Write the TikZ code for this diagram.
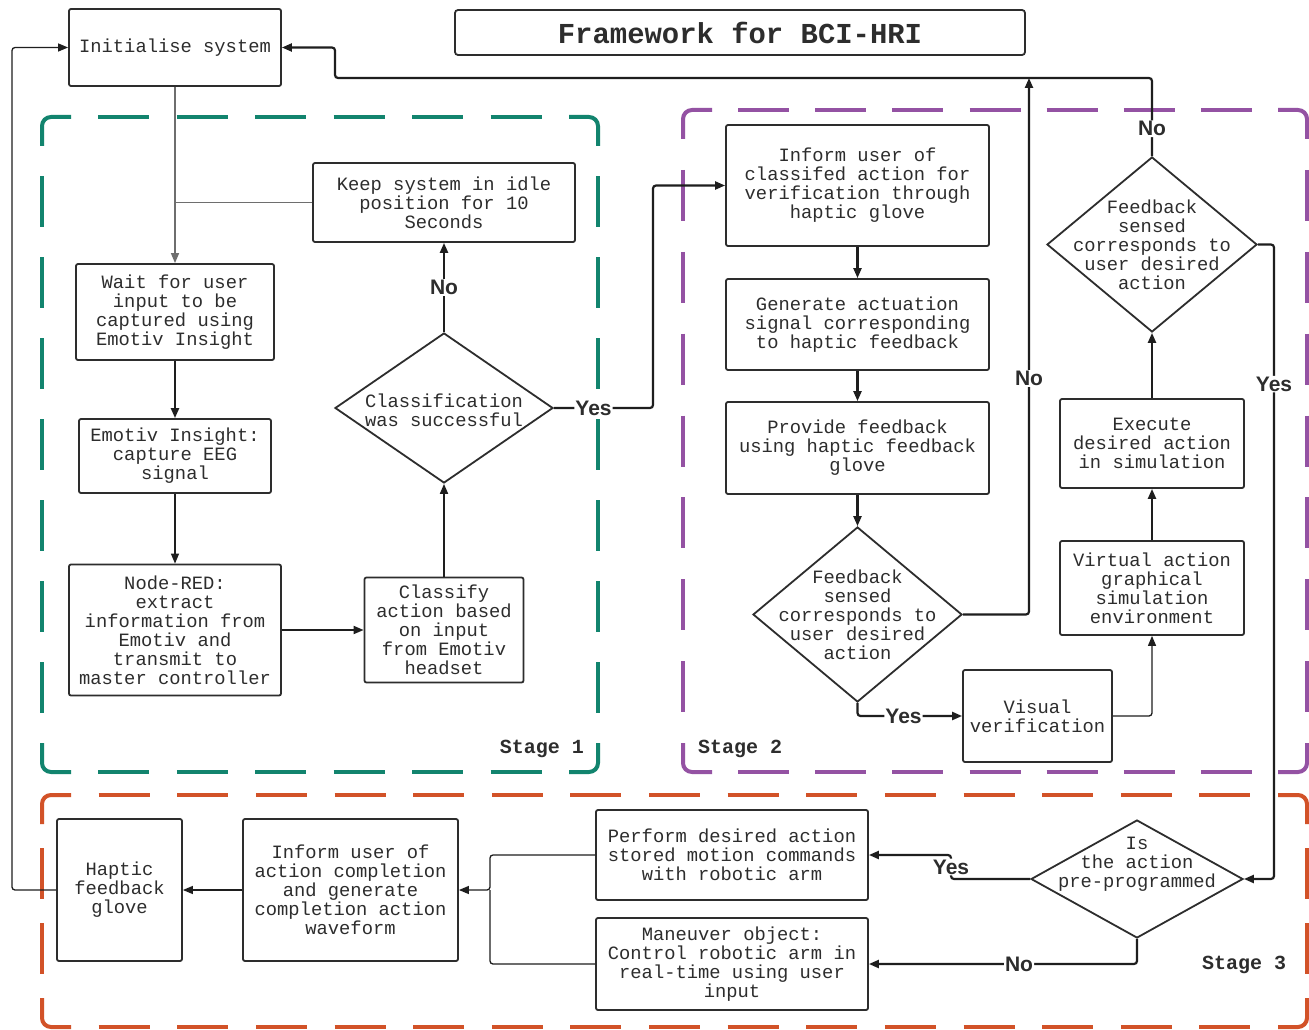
\documentclass[tikz,border=0pt]{standalone}
\usepackage{fontspec}
\usetikzlibrary{shapes.geometric,arrows.meta}
\newfontfamily\monof{Liberation Mono}
\newfontfamily\sansf{Liberation Sans}
\definecolor{txtc}{RGB}{45,45,45}
\definecolor{linec}{RGB}{30,30,30}
\definecolor{grayl}{RGB}{110,110,110}
\definecolor{stgreen}{RGB}{18,132,110}
\definecolor{stpurple}{RGB}{148,82,163}
\definecolor{storange}{RGB}{210,82,40}
\tikzset{
  box/.style={draw=txtc, line width=1.8pt, rounded corners=2pt, fill=white, align=center,
    text=txtc, inner sep=0pt, font={\monof\fontsize{18.8}{19}\selectfont}},
  dia/.style={draw=txtc, line width=1.8pt, diamond, fill=white, inner sep=0pt},
  dtxt/.style={align=center, text=txtc, inner sep=0pt, font={\monof\fontsize{18.8}{19}\selectfont}},
  lab/.style={fill=white, text=txtc, inner sep=1pt, font={\sansf\bfseries\fontsize{21}{21}\selectfont}},
  stagelab/.style={text=txtc, inner sep=0pt, font={\monof\bfseries\fontsize{20}{20}\selectfont}},
  arr/.style={-{Triangle[length=10pt,width=8pt]}},
  thk/.style={draw=linec, line width=2.2pt, rounded corners=3pt},
  med/.style={draw=linec, line width=1.8pt, rounded corners=3pt},
  thn/.style={draw=linec, line width=1.3pt, rounded corners=3pt},
  gl/.style={draw=grayl, line width=1.4pt, rounded corners=3pt},
}
% dashed stage frame: colour, x1, y1, x2, y2 (corner-centred dashes)
\newcommand\stageframe[5]{%
  \pgfmathsetmacro\sfLa{#4-#2-58}%
  \pgfmathsetmacro\sfNa{max(1,round((\sfLa-27)/78))}%
  \pgfmathsetmacro\sfGa{(\sfLa-\sfNa*51)/(\sfNa+1)}%
  \pgfmathsetmacro\sfLb{#5-#3-58}%
  \pgfmathsetmacro\sfNb{max(1,round((\sfLb-27)/78))}%
  \pgfmathsetmacro\sfGb{(\sfLb-\sfNb*51)/(\sfNb+1)}%
  \draw[#1, line width=4pt, rounded corners=9pt] (#2,#3+29) -- (#2,#3) -- (#2+29,#3);
  \draw[#1, line width=4pt, rounded corners=9pt] (#4-29,#3) -- (#4,#3) -- (#4,#3+29);
  \draw[#1, line width=4pt, rounded corners=9pt] (#4,#5-29) -- (#4,#5) -- (#4-29,#5);
  \draw[#1, line width=4pt, rounded corners=9pt] (#2+29,#5) -- (#2,#5) -- (#2,#5-29);
  \draw[#1, line width=4pt, dash pattern=on 51pt off \sfGa pt, dash phase=51pt] (#2+29,#3) -- (#4-29,#3);
  \draw[#1, line width=4pt, dash pattern=on 51pt off \sfGa pt, dash phase=51pt] (#2+29,#5) -- (#4-29,#5);
  \draw[#1, line width=4pt, dash pattern=on 51pt off \sfGb pt, dash phase=51pt] (#2,#3+29) -- (#2,#5-29);
  \draw[#1, line width=4pt, dash pattern=on 51pt off \sfGb pt, dash phase=51pt] (#4,#3+29) -- (#4,#5-29);
}
\begin{document}
\begin{tikzpicture}[x=1pt,y=-1pt]
\useasboundingbox[fill=white] (0,0) rectangle (1309,1030);

% stage frames
\stageframe{stgreen}{42}{117}{598}{772}
\stageframe{stpurple}{683}{110}{1307}{772}
\stageframe{storange}{42}{795}{1307}{1027}

\node[stagelab] (s1) at (542,749) {Stage 1};
\node[stagelab] (s2) at (740,749) {Stage 2};
\node[stagelab] (s3) at (1244,965) {Stage 3};

% title
\node[draw=txtc, line width=1.8pt, rounded corners=3pt, minimum width=570pt, minimum height=45pt,
  inner sep=0pt, text=txtc, font={\monof\bfseries\fontsize{28.9}{29}\selectfont}] (title) at (740,32.5) {Framework for BCI-HRI};

% stage 1
\node[box, minimum width=212pt, minimum height=77pt] (init) at (175,47.5) {Initialise system};
\node[box, minimum width=262pt, minimum height=79pt] (keep) at (444,202.5) {Keep system in idle\\position for 10\\Seconds};
\node[box, minimum width=198pt, minimum height=96pt] (wait) at (175,312) {Wait for user\\input to be\\captured using\\Emotiv Insight};
\node[box, minimum width=192pt, minimum height=74pt] (emo) at (175,456) {Emotiv Insight:\\capture EEG\\signal};
\node[box, minimum width=212pt, minimum height=131pt] (nred) at (175,630) {Node-RED:\\extract\\information from\\Emotiv and\\transmit to\\master controller};
\node[box, minimum width=159pt, minimum height=105pt] (cls) at (444,630) {Classify\\action based\\on input\\from Emotiv\\headset};
\node[dia, minimum width=218pt, minimum height=150pt] (d1) at (444,408) {};
\node[dtxt] (d1t) at (444,410) {Classification\\was successful};

% stage 2
\node[box, minimum width=263pt, minimum height=121pt] (inf) at (857.5,185.5) {Inform user of\\classifed action for\\verification through\\haptic glove};
\node[box, minimum width=263pt, minimum height=91pt] (gen) at (857.5,324.5) {Generate actuation\\signal corresponding\\to haptic feedback};
\node[box, minimum width=263pt, minimum height=92pt] (prov) at (857.5,448) {Provide feedback\\using haptic feedback\\glove};
\node[dia, minimum width=209pt, minimum height=175pt] (d2) at (857.5,614.5) {};
\node[dtxt] (d2t) at (857.5,614.5) {Feedback\\sensed\\corresponds to\\user desired\\action};
\node[box, minimum width=149pt, minimum height=92pt] (vis) at (1037.5,716) {Visual\\verification};
\node[box, minimum width=184pt, minimum height=94pt] (virt) at (1152,588) {Virtual action\\graphical\\simulation\\environment};
\node[box, minimum width=184pt, minimum height=89pt] (exe) at (1152,443.5) {Execute\\desired action\\in simulation};
\node[dia, minimum width=210pt, minimum height=175pt] (d3) at (1152,244.5) {};
\node[dtxt] (d3t) at (1152,244.5) {Feedback\\sensed\\corresponds to\\user desired\\action};

% stage 3
\node[dia, minimum width=212pt, minimum height=118pt] (d4) at (1137,879) {};
\node[dtxt] (d4t) at (1137,864) {Is\\the action\\pre-programmed};
\node[box, minimum width=272pt, minimum height=90pt] (perf) at (732,855) {Perform desired action\\stored motion commands\\with robotic arm};
\node[box, minimum width=272pt, minimum height=92pt] (man) at (732,964) {Maneuver object:\\Control robotic arm in\\real-time using user\\input};
\node[box, minimum width=215pt, minimum height=142pt] (inf3) at (350.5,890) {Inform user of\\action completion\\and generate\\completion action\\waveform};
\node[box, minimum width=125pt, minimum height=142pt] (hap) at (119.5,890) {Haptic\\feedback\\glove};

\coordinate (jtop) at (1029,78);
\coordinate (j3) at (490,890);

% connectors stage 1
\draw[gl,arr] (init.south) -- (wait.north);
\draw[gl] (keep.west) -- (wait.north |- keep.west);
\draw[thk,arr] (wait.south) -- (emo.north);
\draw[thn,arr] (emo.south) -- (nred.north);
\draw[med,arr] (nred.east) -- (cls.west);
\draw[med,arr] (cls.north) -- (d1.south);
\draw[thk,arr] (d1.north) -- node[lab]{No} (keep.south);
\draw[thk,arr] (d1.east) -- node[lab,pos=0.4]{Yes} (653,408) |- (inf.west);

% stage 2
\draw[thk,arr] (inf.south) -- (gen.north);
\draw[thk,arr] (gen.south) -- (prov.north);
\draw[thk,arr] (prov.south) -- (d2.north);
\draw[thk,arr] (d2.east) -| node[lab,pos=0.72]{No} (jtop);
\draw[thk,arr] (d3.north) -- node[lab,pos=0.35]{No} (1152,78) -- (335,78) -- (335,47.5) -- (init.east);
\draw[thk,arr] (d2.south) |- node[lab,pos=0.72]{Yes} (vis.west);
\draw[thn,arr] (vis.east) -| (virt.south);
\draw[thk,arr] (virt.north) -- (exe.south);
\draw[thk,arr] (exe.north) -- (d3.south);
\draw[thk,arr] (d3.east) -- (1274,244.5) -- node[lab,pos=0.22]{Yes} (1274,879) -- (d4.east);

% stage 3
\draw[thk,arr] (d4.west) -- (951,879) -- node[lab]{Yes} (951,855) -- (perf.east);
\draw[thk,arr] (d4.south) |- node[lab,pos=0.72]{No} (man.east);
\draw[thn,arr] (perf.west) -| (j3) -- (inf3.east);
\draw[thn] (man.west) -| (j3);
\draw[thn,arr] (inf3.west) -- (hap.east);
\draw[thn,arr] (hap.west) -- (12,890) -- (12,47.5) -- (init.west);
\end{tikzpicture}
\end{document}
